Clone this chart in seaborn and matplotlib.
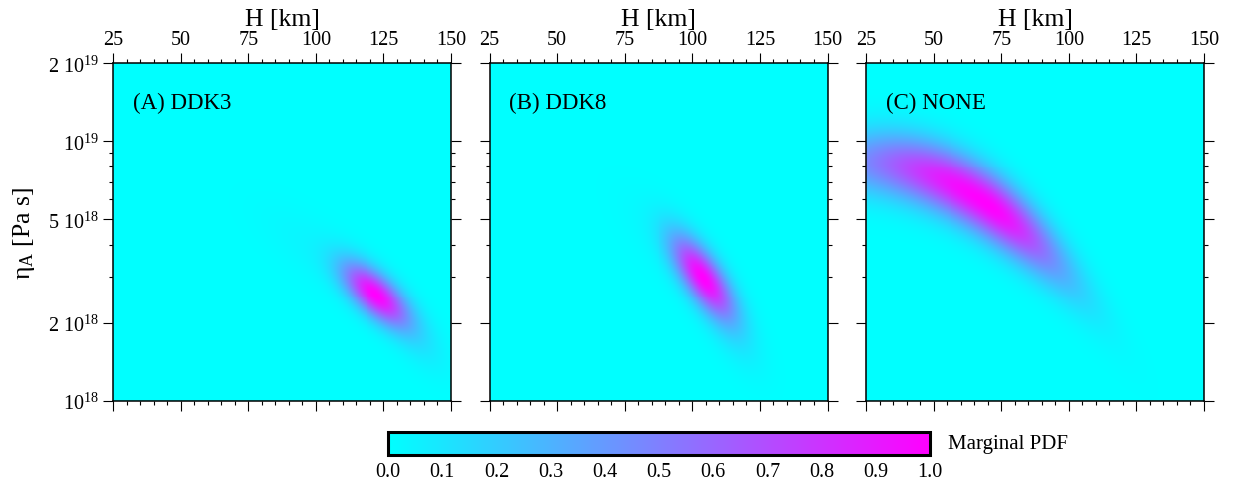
import numpy as np
import pandas as pd
import matplotlib
matplotlib.use("Agg")
import matplotlib.pyplot as plt
import seaborn as sns
from matplotlib.colors import LinearSegmentedColormap

# ---- axes ranges -------------------------------------------------------
H_MIN, H_MAX = 25.0, 150.0                    # layer thickness H [km]
LOGETA_MIN, LOGETA_MAX = 18.0, np.log10(2e19)  # log10 of viscosity eta_A [Pa s]
NX, NY = 340, 340

panel_labels = ["(A) DDK3", "(B) DDK8", "(C) NONE"]

h_major = [25, 50, 75, 100, 125, 150]
h_minor = list(range(25, 151, 5))
eta_major = [1e18, 2e18, 5e18, 1e19, 2e19]
eta_major_labels = ["10$^{18}$", "2 10$^{18}$", "5 10$^{18}$", "10$^{19}$", "2 10$^{19}$"]
eta_minor = [3e18, 4e18, 6e18, 7e18, 8e18, 9e18]

cbar_ticks = [0.0, 0.1, 0.2, 0.3, 0.4, 0.5, 0.6, 0.7, 0.8, 0.9, 1.0]

# ---- posterior lobes ---------------------------------------------------
# each lobe: centre H, spread in H below / above the centre, log10 eta at the
# centre, local slope and curvature of the ridge (dec/km, dec/km^2),
# spread across the ridge in log10 eta, and relative weight
ddk3_h0 = [122.0, 137.0, 100.0]
ddk3_sh_lo = [8.3, 8.0, 15.0]
ddk3_sh_hi = [8.3, 8.0, 15.0]
ddk3_l0 = [18.41, 18.25, 18.58]
ddk3_slope = [-0.0068, -0.008, -0.006]
ddk3_curv = [0.0, 0.0, 0.0]
ddk3_sl = [0.062, 0.075, 0.09]
ddk3_w = [1.0, 0.10, 0.04]

ddk8_h0 = [104.0, 114.0, 92.0]
ddk8_sh_lo = [7.8, 8.0, 13.0]
ddk8_sh_hi = [7.8, 8.0, 13.0]
ddk8_l0 = [18.477, 18.28, 18.6]
ddk8_slope = [-0.0100, -0.010, -0.008]
ddk8_curv = [0.0, 0.0, 0.0]
ddk8_sl = [0.075, 0.085, 0.10]
ddk8_w = [1.0, 0.10, 0.04]

none_h0 = [70.0]
none_sh_lo = [36.0]
none_sh_hi = [19.0]
none_l0 = [18.757]
none_slope = [-0.0068]
none_curv = [-7.0e-5]
none_sl = [0.09]
none_w = [1.0]

panels = [
    (ddk3_h0, ddk3_sh_lo, ddk3_sh_hi, ddk3_l0, ddk3_slope, ddk3_curv, ddk3_sl, ddk3_w),
    (ddk8_h0, ddk8_sh_lo, ddk8_sh_hi, ddk8_l0, ddk8_slope, ddk8_curv, ddk8_sl, ddk8_w),
    (none_h0, none_sh_lo, none_sh_hi, none_l0, none_slope, none_curv, none_sl, none_w),
]

h_cells = H_MIN + (np.arange(NX) + 0.5) * (H_MAX - H_MIN) / NX
l_cells = LOGETA_MIN + (np.arange(NY) + 0.5) * (LOGETA_MAX - LOGETA_MIN) / NY
HH, LL = np.meshgrid(h_cells, l_cells)


def marginal_pdf(h0, sh_lo, sh_hi, l0, slope, curv, sl, w):
    z = np.zeros_like(HH)
    for k in range(len(h0)):
        dh = HH - h0[k]
        sh = np.where(dh < 0, sh_lo[k], sh_hi[k])
        ridge = l0[k] + slope[k] * dh + curv[k] * dh ** 2
        z += w[k] * np.exp(-0.5 * (dh / sh) ** 2 - 0.5 * ((LL - ridge) / sl[k]) ** 2)
    z /= z.max()
    # highest viscosity in the first row so it sits at the top of the map
    return pd.DataFrame(z[::-1], index=np.round(l_cells[::-1], 4), columns=np.round(h_cells, 3))


def hpos(h):
    return (np.asarray(h, float) - H_MIN) / (H_MAX - H_MIN) * NX


def etapos(eta):
    return (LOGETA_MAX - np.log10(np.asarray(eta, float))) / (LOGETA_MAX - LOGETA_MIN) * NY


# ---- style ---------------------------------------------------------------
sns.set_style("ticks")
plt.rcParams["font.family"] = ["Liberation Serif", "DejaVu Serif"]
plt.rcParams["mathtext.fontset"] = "custom"
plt.rcParams["mathtext.rm"] = "Liberation Serif"
plt.rcParams["mathtext.it"] = "Liberation Serif:italic"
plt.rcParams["mathtext.bf"] = "Liberation Serif:bold"
plt.rcParams["text.color"] = "black"
plt.rcParams["axes.labelcolor"] = "black"
plt.rcParams["xtick.color"] = "black"
plt.rcParams["ytick.color"] = "black"

cmap = LinearSegmentedColormap.from_list("cyan_magenta", ["#00ffff", "#ff00ff"])

W, Hpx = 1233, 489
fig = plt.figure(figsize=(W / 100, Hpx / 100), dpi=100)

ax_left_px = [113, 489.5, 866]
ax_w_px, ax_top_px, ax_bot_px = 338, 64.3, 401.7

cax = fig.add_axes([388 / W, 1 - 456 / Hpx, 542 / W, 23 / Hpx])

map_axes = []
for i, params in enumerate(panels):
    ax = fig.add_axes([ax_left_px[i] / W, 1 - ax_bot_px / Hpx, ax_w_px / W,
                       (ax_bot_px - ax_top_px) / Hpx])
    map_axes.append(ax)
    df = marginal_pdf(*params)
    sns.heatmap(df, ax=ax, cmap=cmap, vmin=0, vmax=1,
                xticklabels=False, yticklabels=False,
                cbar=(i == 0), cbar_ax=cax if i == 0 else None,
                cbar_kws={"orientation": "horizontal", "ticks": cbar_ticks},
                rasterized=True)
    for s in ax.spines.values():
        s.set_visible(True)
        s.set_color("black")
        s.set_linewidth(1.1)

    ax.set_xticks(hpos(h_major))
    ax.set_xticklabels([str(v) for v in h_major])
    ax.set_xticks(hpos(h_minor), minor=True)
    ax.set_yticks(etapos(eta_major))
    ax.set_yticklabels(eta_major_labels if i == 0 else [""] * len(eta_major))
    ax.set_yticks(etapos(eta_minor), minor=True)

    ax.tick_params(which="both", direction="out", top=True, bottom=True,
                   left=True, right=True, labeltop=True, labelbottom=False,
                   labelleft=(i == 0), labelright=False, width=0.8,
                   color="black", labelsize=14.5)
    ax.tick_params(which="major", length=7, pad=3)
    ax.tick_params(which="minor", length=3)
    ax.tick_params(axis="y", labelrotation=0)
    ax.tick_params(axis="x", labelrotation=0)

    ax.xaxis.set_label_position("top")
    ax.set_xlabel("H [km]", fontsize=18.5, labelpad=4)
    ax.set_ylabel("")
    if i == 0:
        ax.set_ylabel("η$_\\mathrm{A}$ [Pa s]", fontsize=18.5, labelpad=8)

    ax.text(0.059, 0.884, panel_labels[i], transform=ax.transAxes,
            fontsize=16.5, va="center", ha="left", color="black")

cbar = map_axes[0].collections[0].colorbar
cbar.outline.set_linewidth(2.2)
cbar.outline.set_edgecolor("black")
cax.tick_params(which="major", direction="in", length=6.5, width=1.0,
                bottom=True, top=False, labelsize=14.5, pad=5, color="black")
cax.tick_params(which="minor", length=0)
cbar.set_ticklabels([f"{v:.1f}" for v in cbar_ticks])

fig.text(948 / W, 1 - 444.5 / Hpx, "Marginal PDF", fontsize=15,
         va="center", ha="left")

fig.savefig("out.png", dpi=100)
